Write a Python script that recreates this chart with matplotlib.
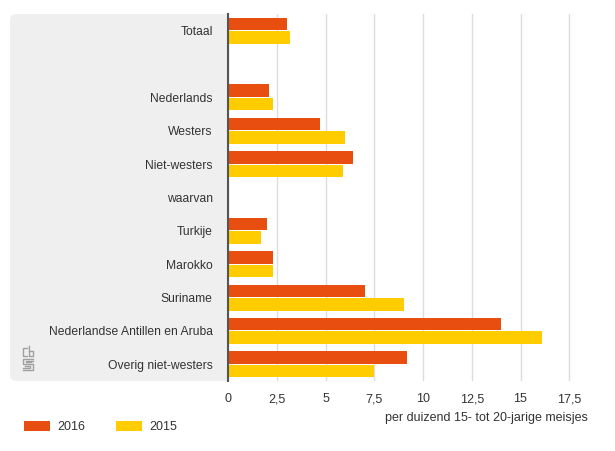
import matplotlib
matplotlib.use("Agg")
import matplotlib.pyplot as plt
from matplotlib.patches import FancyBboxPatch
import numpy as np

plt.rcParams['font.family'] = ['Liberation Sans', 'DejaVu Sans']

categories = ["Totaal", "", "Nederlands", "Westers", "Niet-westers", "waarvan",
              "Turkije", "Marokko", "Suriname", "Nederlandse Antillen en Aruba",
              "Overig niet-westers"]
values_2016 = [3.0, None, 2.1, 4.7, 6.4, None, 2.0, 2.3, 7.0, 14.0, 9.2]
values_2015 = [3.2, None, 2.3, 6.0, 5.9, None, 1.7, 2.3, 9.0, 16.1, 7.5]
series_labels = ["2016", "2015"]
xticks = [0, 2.5, 5, 7.5, 10, 12.5, 15, 17.5]
xtick_labels = ["0", "2,5", "5", "7,5", "10", "12,5", "15", "17,5"]
xlabel = "per duizend 15- tot 20-jarige meisjes"

c16 = "#E84E0F"
c15 = "#FFCC00"
txt = "#333333"
fs = 9

W, H = 615, 451
fig = plt.figure(figsize=(W / 100, H / 100), dpi=100)

# gray label panel
panel = FancyBboxPatch((10 / W, 1 - 381 / H), (245 - 10) / W, (381 - 14) / H,
                       boxstyle="round,pad=0,rounding_size=0.012",
                       transform=fig.transFigure, facecolor="#EFEFEF",
                       edgecolor="none", zorder=-1)
fig.patches.append(panel)

ax_left = 228 / W
xmax = 18.6
ax_w = xmax * 19.5 / W
ax = fig.add_axes([ax_left, 1 - 381 / H, ax_w, (381 - 14) / H])
ax.set_zorder(2)
ax.set_facecolor("white")

n = len(categories)
y = np.arange(n)
bh = 0.375
gap = 0.015
v16 = np.array([np.nan if v is None else v for v in values_2016])
v15 = np.array([np.nan if v is None else v for v in values_2015])
ax.barh(y - bh / 2 - gap, v16, height=bh, color=c16, label=series_labels[0], zorder=3)
ax.barh(y + bh / 2 + gap, v15, height=bh, color=c15, label=series_labels[1], zorder=3)

ax.set_ylim(n - 0.5, -0.5)
ax.set_xlim(0, xmax)
ax.set_yticks(y)
ax.set_yticklabels(categories, fontsize=8.7, color=txt)
ax.set_xticks(xticks)
ax.set_xticklabels(xtick_labels, fontsize=fs, color=txt)
ax.tick_params(axis='y', length=0, pad=11)
ax.tick_params(axis='x', length=0, pad=9)
ax.grid(axis='x', color="#DDDDDD", linewidth=1, zorder=0)
for s in ["top", "right", "bottom"]:
    ax.spines[s].set_visible(False)
ax.spines["left"].set_color("#555555")
ax.spines["left"].set_linewidth(1.5)
ax.spines["left"].set_zorder(4)

fig.text(588 / W, 1 - 418 / H, xlabel, ha="right", va="center", fontsize=fs, color=txt)

# CBS logo approximation (grey outline glyphs)
lg = "#A0A0A0"
def fl(xs, ys):
    fig.add_artist(plt.Line2D([x / W for x in xs], [1 - v / H for v in ys],
                              color=lg, lw=1.0, transform=fig.transFigure, zorder=5))
# "c" and "b" on top
fl([27, 23, 23, 27], [348, 348, 356, 356])
fl([29, 29, 33, 33, 29], [346, 356, 356, 351, 351])
# "s" meander at bottom
fl([33, 23, 23, 33, 33, 23], [359, 359, 364, 364, 370, 370])
fl([33, 26, 26, 31], [361, 361, 362, 362])
fl([23, 30, 30, 25], [368, 368, 366, 366])

handles, labels = ax.get_legend_handles_labels()
leg = fig.legend(handles, labels, loc="center left", bbox_to_anchor=(19 / W, 1 - 427 / H),
                 ncol=2, frameon=False, fontsize=fs, handlelength=2.1, handleheight=0.9,
                 columnspacing=2.4, handletextpad=0.6, borderaxespad=0)
for t in leg.get_texts():
    t.set_color(txt)

fig.savefig("out.png", dpi=100)
